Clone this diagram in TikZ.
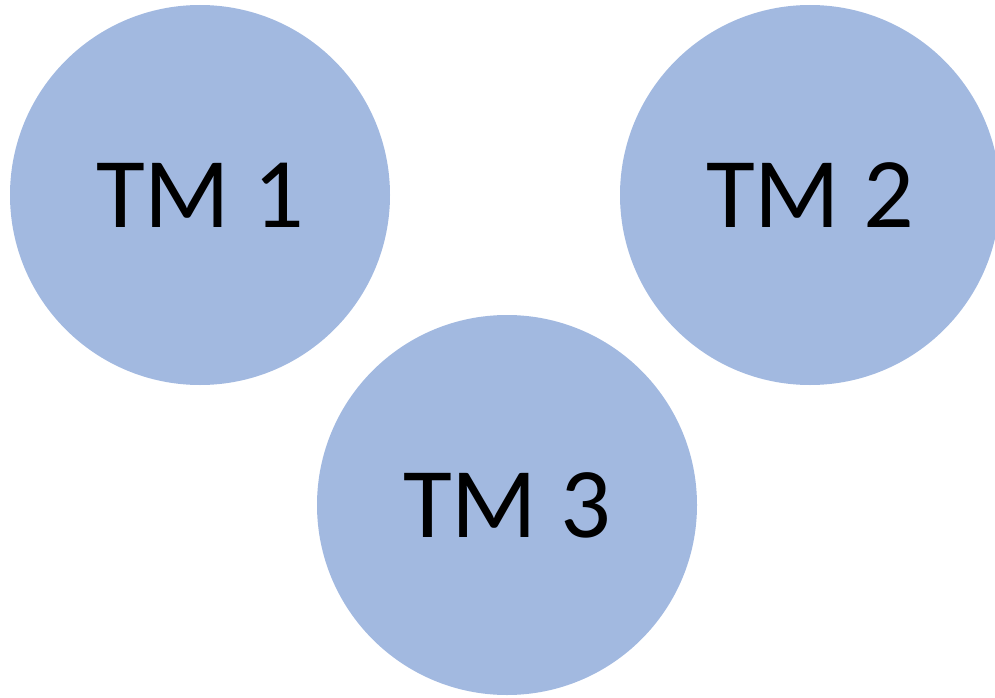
\documentclass[tikz,border=0pt]{standalone}
\usepackage{fontspec}
\setmainfont{Carlito}
\definecolor{tmblue}{RGB}{162,185,224}
\begin{document}
\begin{tikzpicture}[x=1pt,y=-1pt,
  tm/.style={circle,fill=tmblue,minimum size=380pt,inner sep=0pt,font=\fontsize{100}{100}\selectfont,text=black}]
\useasboundingbox (0,0) rectangle (995,698);
\clip (0,0) rectangle (995,698);
\node[tm] (tm1) at (200,195) {TM 1};
\node[tm] (tm2) at (810,195) {TM 2};
\node[tm] (tm3) at (507,505) {TM 3};
\end{tikzpicture}
\end{document}
